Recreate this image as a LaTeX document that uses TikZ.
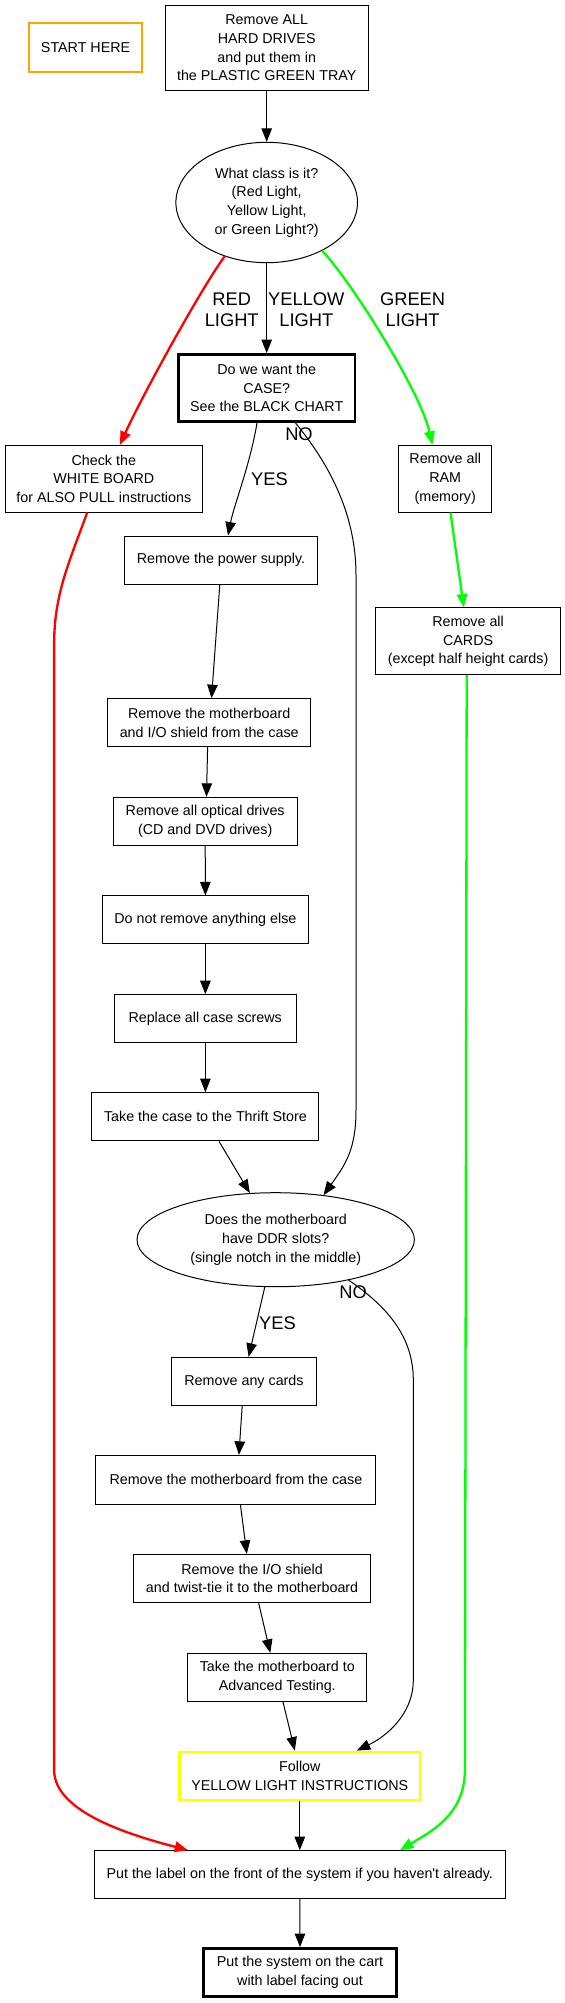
\documentclass[tikz,border=0pt]{standalone}
\usepackage{fontspec}
\setmainfont{Liberation Sans}
\usetikzlibrary{arrows.meta,shapes.geometric}
\definecolor{cOrange}{HTML}{FFA500}
\definecolor{cYellow}{HTML}{FFFF00}
\definecolor{cRed}{HTML}{FF0000}
\definecolor{cGreen}{HTML}{00FF00}
\newcommand\nfont{\fontsize{14.3pt}{18.7pt}\selectfont}
\newcommand\lfont{\fontsize{18.3pt}{21pt}\selectfont}
\begin{document}
\begin{tikzpicture}[x=1pt,y=-1pt,
  box/.style={draw, rectangle, inner sep=0pt, align=center, font=\nfont, line width=1pt},
  thickbox/.style={box, line width=2.5pt},
  oval/.style={draw, ellipse, inner sep=0pt, align=center, font=\nfont, line width=1pt},
  elabel/.style={inner sep=0pt, align=center, font=\lfont},
  arr/.style={line width=1pt, -{Triangle[length=13.5pt,width=10.5pt]}},
  redarr/.style={draw=cRed, line width=2.3pt, -{Triangle[length=13.5pt,width=10.5pt]}},
  greenarr/.style={draw=cGreen, line width=2.3pt, -{Triangle[length=13.5pt,width=10.5pt]}}
]
\useasboundingbox (0,0) rectangle (565,2003);

% nodes
\node[box, draw=cOrange, line width=2.2pt, minimum width=113.5pt, minimum height=48.4pt] (start) at (85.6,47.5) {START HERE};
\node[box, minimum width=203.3pt, minimum height=85.7pt] (hdd) at (266.7,47.85) {Remove ALL\\HARD DRIVES\\and put them in\\the PLASTIC GREEN TRAY};
\node[oval, minimum width=181.6pt, minimum height=120.4pt] (class) at (266.7,202.5) {What class is it?\\(Red Light,\\Yellow Light,\\or Green Light?)};
\node[thickbox, minimum width=176.6pt, minimum height=67.4pt] (case) at (266.7,388) {Do we want the\\CASE?\\See the BLACK CHART};
\node[box, minimum width=197.5pt, minimum height=66.7pt] (white) at (103.8,478.7) {Check the\\WHITE BOARD\\for ALSO PULL instructions};
\node[box, minimum width=93.3pt, minimum height=66.7pt] (ram) at (445.2,478.7) {Remove all\\RAM\\(memory)};
\node[box, minimum width=192.1pt, minimum height=48pt] (psu) at (221,560) {Remove the power supply.};
\node[box, minimum width=184.5pt, minimum height=66.7pt] (cards) at (468.1,641.3) {Remove all\\CARDS\\(except half height cards)};
\node[box, minimum width=202.9pt, minimum height=48pt] (mobo) at (209.2,722.7) {Remove the motherboard\\and I/O shield from the case};
\node[box, minimum width=184.1pt, minimum height=47.7pt] (optical) at (205.2,821.2) {Remove all optical drives\\(CD and DVD drives)};
\node[box, minimum width=205.4pt, minimum height=47.7pt] (dontremove) at (205.4,919.8) {Do not remove anything else};
\node[box, minimum width=182pt, minimum height=48pt] (screws) at (205.2,1018.7) {Replace all case screws};
\node[box, minimum width=227pt, minimum height=48.3pt] (thrift) at (205.4,1116.8) {Take the case to the Thrift Store};
\node[oval, minimum width=277.4pt, minimum height=94pt] (ddr) at (275.7,1239.7) {Does the motherboard\\have DDR slots?\\(single notch in the middle)};
\node[box, minimum width=144.1pt, minimum height=48pt] (anycards) at (244,1381.3) {Remove any cards};
\node[box, minimum width=280pt, minimum height=48.7pt] (mobocase) at (235.9,1479.7) {Remove the motherboard from the case};
\node[box, minimum width=237.5pt, minimum height=48.4pt] (ioshield) at (252.1,1578.5) {Remove the I/O shield\\and twist-tie it to the motherboard};
\node[box, minimum width=179.1pt, minimum height=47.7pt] (advtest) at (277.3,1677.2) {Take the motherboard to\\Advanced Testing.};
\node[box, draw=cYellow, line width=2.2pt, minimum width=240.7pt, minimum height=48.3pt] (follow) at (299.8,1775.8) {Follow\\YELLOW LIGHT INSTRUCTIONS};
\node[box, minimum width=410.8pt, minimum height=48pt] (label) at (299.8,1874.7) {Put the label on the front of the system if you haven\textquotesingle t already.};
\node[thickbox, minimum width=192.8pt, minimum height=48.4pt] (cart) at (300,1972.5) {Put the system on the cart\\with label facing out};

% edge labels
\node[elabel] (lred) at (231.7,309.5) {RED\\LIGHT};
\node[elabel] (lyel) at (306.3,309.5) {YELLOW\\LIGHT};
\node[elabel] (lgrn) at (412.6,309.5) {GREEN\\LIGHT};
\node[elabel] (lyes1) at (269.5,478.7) {YES};
\node[elabel] (lno1) at (299,434.3) {NO};
\node[elabel] (lyes2) at (277.5,1323.3) {YES};
\node[elabel] (lno2) at (353.2,1291.7) {NO};

% edges
\draw[arr] (hdd.south) -- (class.north);
\draw[redarr] (class.232.7) .. controls (200,290) and (140,400) .. ([xshift=16.2pt]white.north);
\draw[arr] (class.south) -- (case.north);
\draw[greenarr] (class.-41.9) .. controls (350,280) and (420,390) .. ([xshift=-12.8pt]ram.north);
\draw[arr] ([xshift=-9.7pt]case.south) .. controls (250,465) and (234,505) .. ([xshift=7pt]psu.north);
\draw[arr] ([xshift=28.8pt]case.south) .. controls (330,465) and (356,515) .. (356,575) -- (356,1110) .. controls (356,1150) and (345,1165) .. (ddr.43.7);
\draw[redarr] ([xshift=-16.6pt]white.south) .. controls (68,565) and (54.1,595) .. (54.1,645) -- (54.1,1770) .. controls (54.1,1812) and (130,1835) .. ([xshift=-111.7pt]label.north);
\draw[greenarr] ([xshift=5.3pt]ram.south) -- ([xshift=-4.3pt]cards.north);
\draw[greenarr] ([xshift=-1.4pt]cards.south) -- (464.9,1770) .. controls (464.9,1815) and (430,1832) .. ([xshift=100.2pt]label.north);
\draw[arr] ([xshift=-1.2pt]psu.south) -- ([xshift=2.3pt]mobo.north);
\draw[arr] ([xshift=-1.6pt]mobo.south) -- ([xshift=1.3pt]optical.north);
\draw[arr] (optical.south) -- (dontremove.north);
\draw[arr] (dontremove.south) -- ([xshift=0.2pt]screws.north);
\draw[arr] ([xshift=0.2pt]screws.south) -- (thrift.north);
\draw[arr] ([xshift=13.7pt]thrift.south) -- (ddr.119.5);
\draw[arr] (ddr.257.9) -- ([xshift=4.6pt]anycards.north);
\draw[arr] (ddr.-29.2) .. controls (385,1305) and (413.3,1335) .. (413.3,1380) -- (413.3,1680) .. controls (413.3,1715) and (385,1737) .. ([xshift=57pt]follow.north);
\draw[arr] ([xshift=-1.8pt]anycards.south) -- ([xshift=3pt]mobocase.north);
\draw[arr] ([xshift=4.5pt]mobocase.south) -- ([xshift=-5.3pt]ioshield.north);
\draw[arr] ([xshift=6.6pt]ioshield.south) -- ([xshift=-7pt]advtest.north);
\draw[arr] ([xshift=5.6pt]advtest.south) -- ([xshift=-5pt]follow.north);
\draw[arr] (follow.south) -- (label.north);
\draw[arr] (label.south) -- (cart.north);
\end{tikzpicture}
\end{document}
